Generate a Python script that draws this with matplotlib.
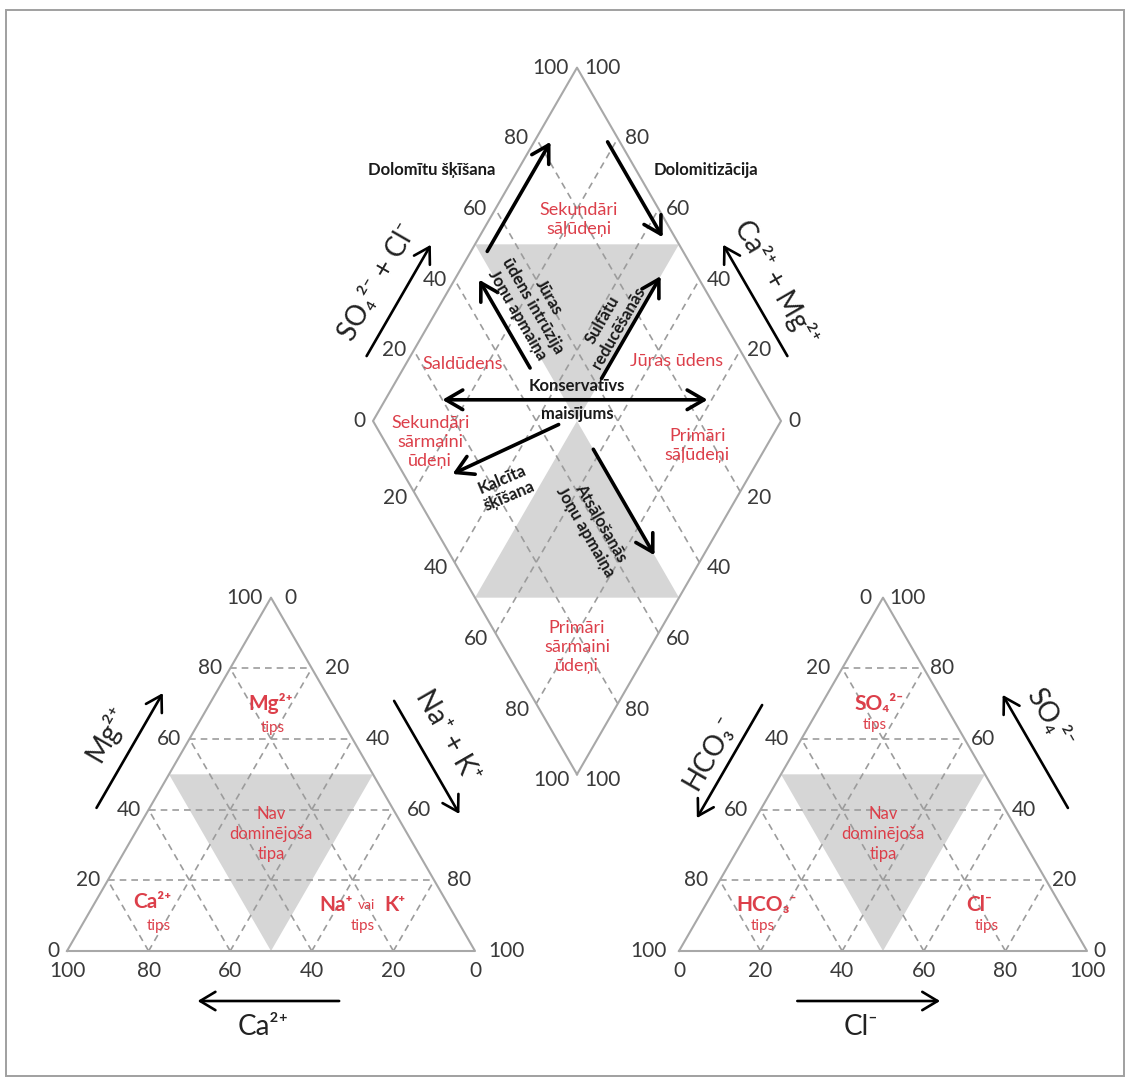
import numpy as np
import matplotlib
matplotlib.use("Agg")
import matplotlib.pyplot as plt
from matplotlib.patches import Polygon, FancyArrowPatch, Rectangle

plt.rcParams['font.family'] = ['Lato', 'DejaVu Sans']

# ---- data ----
ticks = [0, 20, 40, 60, 80, 100]
grid_vals = [20, 40, 60, 80]

# "no dominant type" zone of both triangles (left corner %, top %, right corner %)
tri_zone = [(50, 50, 0), (0, 50, 50), (50, 0, 50)]
# diamond zones (SO4+Cl %, Ca+Mg %)
dia_zone_up = [(50, 100), (100, 50), (50, 50)]
dia_zone_low = [(50, 0), (0, 50), (50, 50)]

# process arrows in the diamond (SO4+Cl %, Ca+Mg %) start -> end
dia_arrows = [
    ((52, 96), (83, 96)),   # dolomītu šķīšana
    ((97, 82), (97, 55)),   # dolomitizācija
    ((46, 69), (46, 94)),   # jūras ūdens intrūzija
    ((62, 50), (91, 50)),   # sulfātu reducēšanās
    ((45, 54), (12, 73)),   # kalcīta šķīšana
    ((50, 42), (50, 12)),   # atsāļošanās
]
dia_double = ((20, 86), (85, 21))  # konservatīvs maisījums

# water type labels in the diamond
dia_red = [
    ("Sekundāri\nsāļūdeņi", 79, 78),
    ("Saldūdens", 30, 86),
    ("Jūras ūdens", 83, 34),
    ("Sekundāri\nsārmaini\nūdeņi", 11, 83),
    ("Primāri\nsāļūdeņi", 76, 17),
    ("Primāri\nsārmaini\nūdeņi", 18, 18),
]
# process labels (text, SO4+Cl %, Ca+Mg %, rotation)
dia_black = [
    ("Dolomītu šķīšana", 50, 121, 0),
    ("Dolomitizācija", 117, 54, 0),
    ("Jūras\nūdens intrūzija\nJoņu apmaiņa", 55.5, 77, -60),
    ("Sulfātu\nreducēšanās", 72, 55.5, 60),
    ("Konservatīvs", 55, 55, 0),
    ("maisījums", 51, 51, 0),
    ("Kalcīta\nšķīšana", 23, 58, 23),
    ("Atsāļošanās\nJoņu apmaiņa", 39, 31, -60),
]

# ---- geometry ----
H = np.sqrt(3) / 2
GAP = 0.5
S = 408.0           # triangle side in pixels
X0, BASE = 67, 951  # left vertex / base line in pixels

def cat_xy(ca, mg, na):
    return na / 100 + mg / 200, mg / 100 * H

def an_xy(hco3, so4, cl):
    return 1 + GAP + cl / 100 + so4 / 200, so4 / 100 * H

def dia_xy(a, b):
    a, b = a / 100, b / 100
    return 1 + GAP / 2 + (a - b) / 2, GAP * H + (a + b) * H

fig = plt.figure(figsize=(11.30, 10.79), dpi=100)
ax = fig.add_axes([0, 0, 1, 1])
ax.set_xlim(-X0 / S, (1130 - X0) / S)
ax.set_ylim((BASE - 1079) / S, BASE / S)
ax.axis('off')

fig.add_artist(Rectangle((6 / 1130, 3 / 1079), 1118 / 1130, 1066 / 1079,
                         transform=fig.transFigure, fill=False,
                         ec='#a0a0a0', lw=1.4))

gray = '#d6d6d6'
edge = '#a8a8a8'
dash = '#9c9c9c'
red = '#dc3f4a'
tickc = '#3a3a3a'

# gray zones
for f in (cat_xy, an_xy):
    ax.add_patch(Polygon([f(*p) for p in tri_zone], fc=gray, ec='none', zorder=1))
for zone in (dia_zone_up, dia_zone_low):
    ax.add_patch(Polygon([dia_xy(*p) for p in zone], fc=gray, ec='none', zorder=1))

# grids
for f in (cat_xy, an_xy):
    for v in grid_vals:
        for p, q in [((100 - v, v, 0), (0, v, 100 - v)),
                     ((100 - v, 0, v), (0, 100 - v, v)),
                     ((v, 0, 100 - v), (v, 100 - v, 0))]:
            (x1, y1), (x2, y2) = f(*p), f(*q)
            ax.plot([x1, x2], [y1, y2], ls=(0, (4, 3)), color=dash, lw=1.2, zorder=2)
for v in grid_vals:
    for p, q in [((v, 0), (v, 100)), ((0, v), (100, v))]:
        (x1, y1), (x2, y2) = dia_xy(*p), dia_xy(*q)
        ax.plot([x1, x2], [y1, y2], ls=(0, (4, 3)), color=dash, lw=1.2, zorder=2)

# outlines
for f in (cat_xy, an_xy):
    pts = [f(100, 0, 0), f(0, 100, 0), f(0, 0, 100), f(100, 0, 0)]
    ax.plot(*zip(*pts), color=edge, lw=1.5, zorder=3)
pts = [dia_xy(0, 0), dia_xy(100, 0), dia_xy(100, 100), dia_xy(0, 100), dia_xy(0, 0)]
ax.plot(*zip(*pts), color=edge, lw=1.5, zorder=3)

# tick labels
def tick(xy, v, dx, dy, ha):
    ax.annotate(str(v), xy, xytext=(dx, dy), textcoords='offset pixels',
                ha=ha, va='center', fontsize=15, color=tickc, zorder=5)

for v in ticks:
    tick(cat_xy(100 - v, v, 0), v, -8, 0, 'right')
    tick(cat_xy(0, 100 - v, v), v, 13, 0, 'left')
    tick(cat_xy(v, 0, 100 - v), v, 0, -20, 'center')
    tick(an_xy(v, 100 - v, 0), v, -12, 0, 'right')
    tick(an_xy(0, v, 100 - v), v, 6, 0, 'left')
    tick(an_xy(100 - v, 0, v), v, 0, -20, 'center')
    tick(dia_xy(v, 100), v, -8, 0, 'right')
    tick(dia_xy(100, v), v, 7, 0, 'left')
    if v > 0:
        tick(dia_xy(0, 100 - v), v, -7, -6, 'right')
        tick(dia_xy(100 - v, 0), v, 7, -6, 'left')

# axis arrows and names, placed beside an edge
def side(p0, p1, t, off):
    d = np.subtract(p1, p0)
    n = np.array([-d[1], d[0]]) / np.hypot(*d)
    return np.add(p0, t * d) + off / S * n

def arrow(p, q, lw, style='->', hl=0.55, hw=0.32):
    ax.add_patch(FancyArrowPatch(p, q, arrowstyle=f'{style},head_length={hl},head_width={hw}',
                                 mutation_scale=22, lw=lw, color='black',
                                 shrinkA=0, shrinkB=0, zorder=6))

axis_names = [
    # edge start, edge end, arrow t0, t1, arrow offset, label t, label offset, rotation, text
    (cat_xy(100, 0, 0), cat_xy(0, 100, 0), 0.34, 0.665, 46, 0.51, 74, 60, 'Mg²⁺'),
    (cat_xy(0, 100, 0), cat_xy(0, 0, 100), 0.37, 0.69, 55, 0.51, 84, -60, 'Na⁺ + K⁺'),
    (cat_xy(0, 0, 100), cat_xy(100, 0, 0), 0.333, 0.68, 50, 0.52, 76, 0, 'Ca²⁺'),
    (an_xy(100, 0, 0), an_xy(0, 100, 0), 0.624, 0.304, 51, 0.458, 72, 60, 'HCO₃⁻'),
    (an_xy(0, 100, 0), an_xy(0, 0, 100), 0.673, 0.353, 55, 0.46, 83, -60, 'SO₄²⁻'),
    (an_xy(0, 0, 100), an_xy(100, 0, 0), 0.71, 0.36, 50, 0.554, 76, 0, 'Cl⁻'),
    (dia_xy(0, 100), dia_xy(100, 100), 0.13, 0.445, 38, 0.30, 65, 60, 'SO₄²⁻ + Cl⁻'),
    (dia_xy(100, 100), dia_xy(100, 0), 0.87, 0.555, 38, 0.70, 65, -60, 'Ca²⁺ + Mg²⁺'),
]
for p0, p1, t0, t1, off, tl, offl, rot, txt in axis_names:
    arrow(side(p0, p1, t0, off), side(p0, p1, t1, off), 1.9, hl=0.5, hw=0.3)
    x, y = side(p0, p1, tl, offl)
    ax.text(x, y, txt, fontsize=20, color='#222222', rotation=rot,
            rotation_mode='anchor', ha='center', va='center', zorder=6)

# diamond process arrows
for p, q in dia_arrows:
    arrow(dia_xy(*p), dia_xy(*q), 2.6)
arrow(dia_xy(*dia_double[0]), dia_xy(*dia_double[1]), 2.6, style='<->')

for txt, a, b in dia_red:
    x, y = dia_xy(a, b)
    ax.text(x, y, txt, fontsize=13, color=red, ha='center', va='center',
            linespacing=1.25, zorder=7)
for txt, a, b, rot in dia_black:
    x, y = dia_xy(a, b)
    ax.text(x, y, txt, fontsize=12, fontweight='bold', color='#1a1a1a',
            ha='center', va='center', rotation=rot, rotation_mode='anchor',
            linespacing=1.15, zorder=7)

# triangle type labels
def red_lbl(xy, txt, size, bold=False, dx=0, ha='center'):
    ax.annotate(txt, xy, xytext=(dx, 0), textcoords='offset pixels', fontsize=size,
                fontweight='bold' if bold else 'normal', color=red,
                ha=ha, va='center', zorder=7)

red_lbl(cat_xy(15, 70, 15), 'Mg²⁺', 15, True)
red_lbl(cat_xy(18, 63, 19), 'tips', 11)
red_lbl(cat_xy(72, 14, 14), 'Ca²⁺', 15, True)
red_lbl(cat_xy(74, 7, 19), 'tips', 11)
red_lbl(cat_xy(20, 13, 67), 'Na⁺', 15, True, -14, 'right')
red_lbl(cat_xy(20, 13, 67), 'vai', 10)
red_lbl(cat_xy(20, 13, 67), 'K⁺', 15, True, 17, 'left')
red_lbl(cat_xy(24, 7, 69), 'tips', 11)

red_lbl(an_xy(16, 70, 14), 'SO₄²⁻', 15, True)
red_lbl(an_xy(20, 64, 16), 'tips', 11)
red_lbl(an_xy(72, 13, 15), 'HCO₃⁻', 15, True)
red_lbl(an_xy(76, 7, 17), 'tips', 11)
red_lbl(an_xy(20, 13, 67), 'Cl⁻', 15, True)
red_lbl(an_xy(21, 7, 72), 'tips', 11)

for f in (cat_xy, an_xy):
    x, y = f(33.4, 33.2, 33.4)
    ax.text(x, y, "Nav\ndominējoša\ntipa", fontsize=12, color=red, ha='center',
            va='center', linespacing=1.3, zorder=7)

fig.savefig("out.png", dpi=100, facecolor='white')
